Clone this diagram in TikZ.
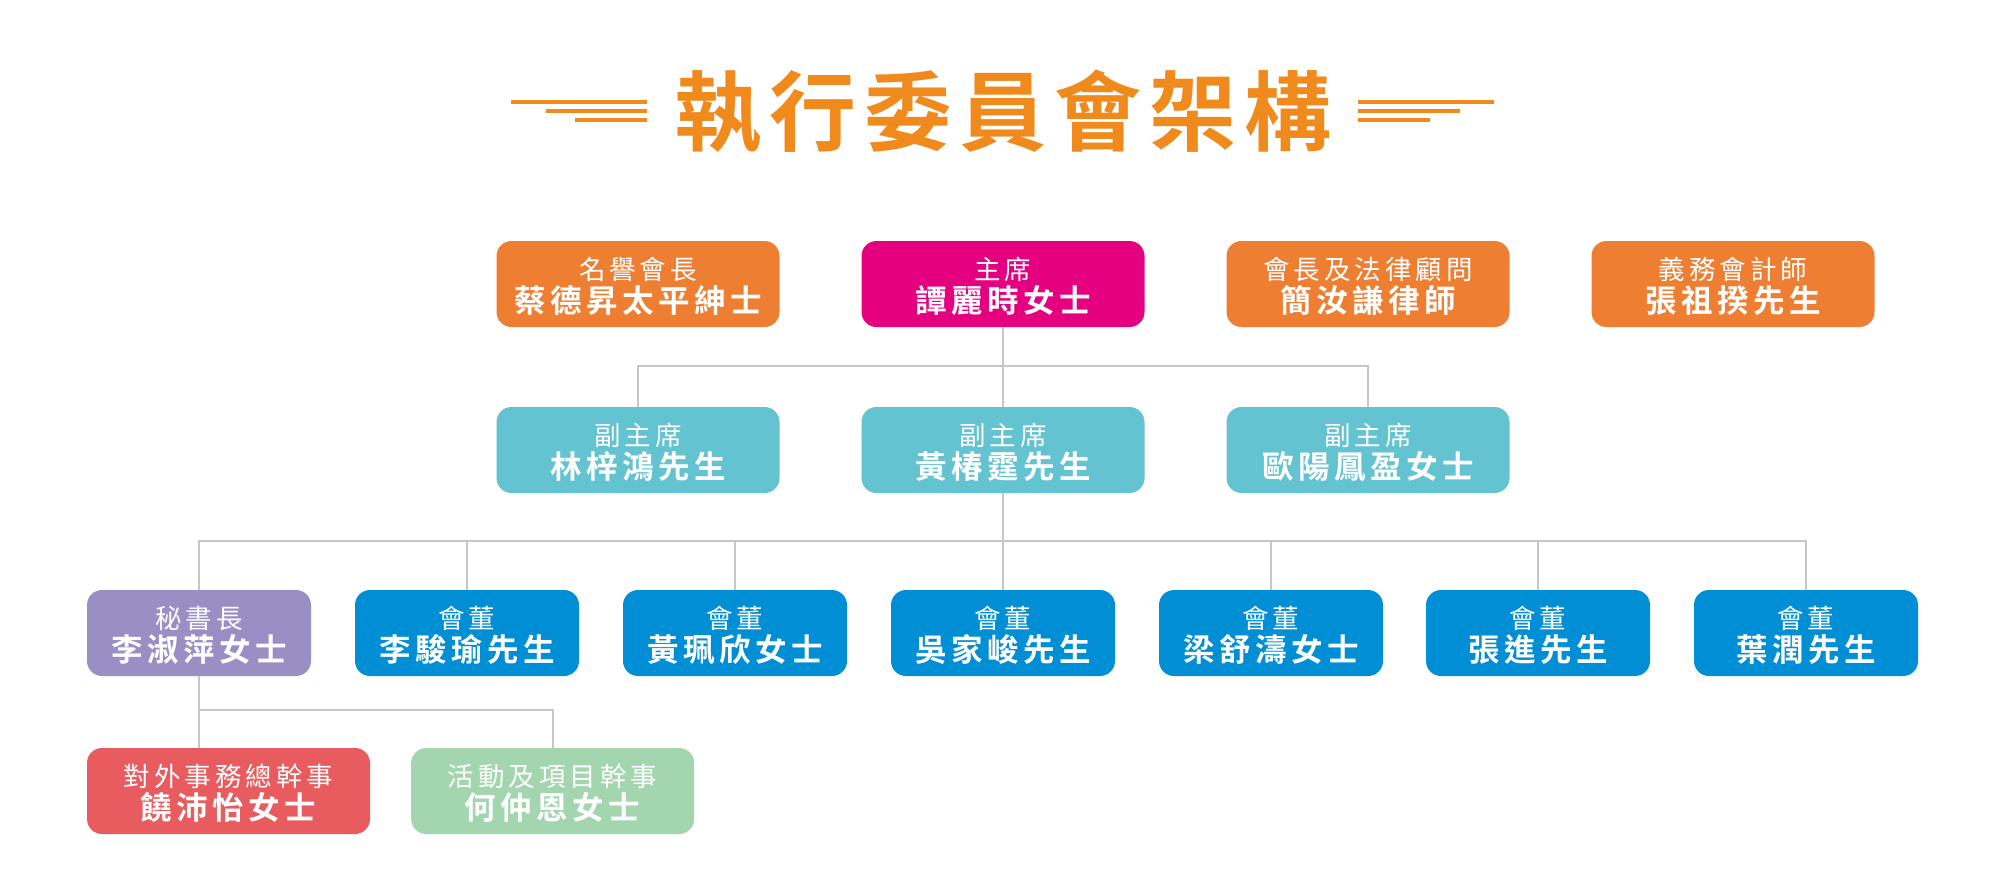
\documentclass[tikz,border=0pt]{standalone}
\usepackage{fontspec}
\newfontfamily\cjkreg{Noto Sans CJK TC}
\newfontfamily\cjkbold{Noto Sans CJK TC}[UprightFont=* Bold]
\definecolor{titleorg}{HTML}{F08A1C}
\definecolor{boxorg}{HTML}{EE7E32}
\definecolor{boxmag}{HTML}{E4007F}
\definecolor{boxteal}{HTML}{63C3D0}
\definecolor{boxpur}{HTML}{9A8FC4}
\definecolor{boxblue}{HTML}{008FD5}
\definecolor{boxred}{HTML}{E85C5F}
\definecolor{boxgreen}{HTML}{A3D5AE}
\definecolor{linegray}{HTML}{C6C6C6}
\makeatletter
\newcommand\spaced[2]{\def\sp@k{}\@tfor\sp@c:=#2\do{\sp@k\sp@c\def\sp@k{\kern#1}}}
\makeatother
\tikzset{
  cardbox/.style={rounded corners=15pt, minimum height=86pt, inner sep=0pt, draw=none},
  roletext/.style={anchor=base, inner sep=0pt, text=white, font=\cjkreg\fontsize{26.5}{30}\selectfont},
  nametext/.style={anchor=base, inner sep=0pt, text=white, font=\cjkbold\fontsize{31.5}{34}\selectfont},
  conn/.style={draw=linegray, line width=2pt},
  deco/.style={draw=titleorg, line width=3.7pt},
}
\newcommand\card[7]{%
  \node[cardbox, minimum width=#4, fill=#5] (#1) at (#2,#3) {};
  \node[roletext] (#1-role) at ([yshift=5pt]#1.center) {\spaced{4pt}{#6}};
  \node[nametext] (#1-name) at ([yshift=-28pt]#1.center) {\spaced{4.5pt}{#7}};
}
\begin{document}
\begin{tikzpicture}[x=1pt,y=-1pt]
\useasboundingbox (0,0) rectangle (2000,894);
\fill[white] (0,0) rectangle (2000,894);
% title
\node[anchor=base, inner sep=0pt, text=titleorg, font=\cjkbold\fontsize{87}{90}\selectfont] (title) at (1003,144.6) {\spaced{8pt}{執行委員會架構}};
\draw[deco] (511,102) -- (647,102);
\draw[deco] (546,111) -- (647,111);
\draw[deco] (575,120) -- (647,120);
\draw[deco] (1358,102) -- (1494,102);
\draw[deco] (1358,111) -- (1460,111);
\draw[deco] (1358,120) -- (1430,120);
% row 1
\card{hon}{638}{284}{283pt}{boxorg}{名譽會長}{蔡德昇太平紳士}
\card{chair}{1003}{284}{283pt}{boxmag}{主席}{譚麗時女士}
\card{legal}{1368}{284}{283pt}{boxorg}{會長及法律顧問}{簡汝謙律師}
\card{acct}{1733}{284}{283pt}{boxorg}{義務會計師}{張祖揆先生}
% row 2
\card{vc1}{638}{450}{283pt}{boxteal}{副主席}{林梓鴻先生}
\card{vc2}{1003}{450}{283pt}{boxteal}{副主席}{黃椿霆先生}
\card{vc3}{1368}{450}{283pt}{boxteal}{副主席}{歐陽鳳盈女士}
% row 3
\card{sg}{199}{633}{224pt}{boxpur}{秘書長}{李淑萍女士}
\card{d2}{467}{633}{224pt}{boxblue}{會董}{李駿瑜先生}
\card{d3}{735}{633}{224pt}{boxblue}{會董}{黃珮欣女士}
\card{d4}{1003}{633}{224pt}{boxblue}{會董}{吳家峻先生}
\card{d5}{1271}{633}{224pt}{boxblue}{會董}{梁舒濤女士}
\card{d6}{1538}{633}{224pt}{boxblue}{會董}{張進先生}
\card{d7}{1806}{633}{224pt}{boxblue}{會董}{葉潤先生}
% row 4
\card{ext}{228.5}{791}{283pt}{boxred}{對外事務總幹事}{饒沛怡女士}
\card{act}{552.7}{791}{283pt}{boxgreen}{活動及項目幹事}{何仲恩女士}
% connectors
\coordinate (h1) at (0,366);
\coordinate (h2) at (0,541);
\coordinate (h3) at (0,710);
\draw[conn] (chair.south) -- (vc2.north);
\draw[conn] (vc1.north) -- (vc1.north |- h1) -- (vc3.north |- h1) -- (vc3.north);
\draw[conn] (vc2.south) -- (d4.north);
\draw[conn] (sg.north) -- (sg.north |- h2) -- (d7.north |- h2) -- (d7.north);
\draw[conn] (d2.north) -- (d2.north |- h2);
\draw[conn] (d3.north) -- (d3.north |- h2);
\draw[conn] (d5.north) -- (d5.north |- h2);
\draw[conn] (d6.north) -- (d6.north |- h2);
\draw[conn] (sg.south) -- (sg.south |- ext.north);
\draw[conn] (sg.south |- h3) -- (act.north |- h3) -- (act.north);
\end{tikzpicture}
\end{document}
